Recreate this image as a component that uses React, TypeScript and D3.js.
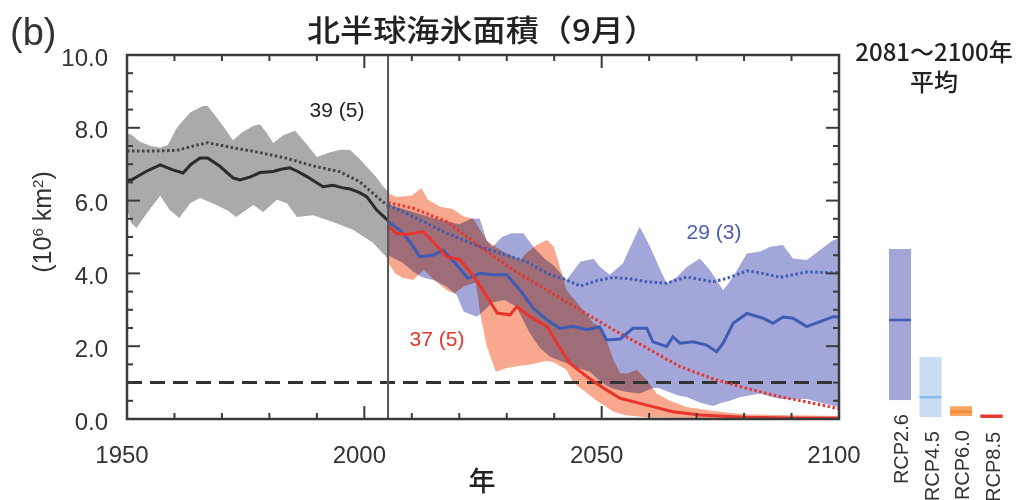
import React from "react";
import * as d3 from "d3";

type Pt = [number, number];

// historical (1950-2005)
const histHigh: Pt[] = [
  [1950, 7.85], [1951, 7.8], [1952.7, 7.62], [1955, 7.5], [1957, 7.46], [1958.6, 7.53], [1960.5, 8.0],
  [1963.3, 8.42], [1966, 8.6], [1967, 8.6], [1968.5, 8.35], [1970.5, 8.0], [1972.3, 7.66], [1974.5, 7.9],
  [1976.6, 8.05], [1978, 8.1], [1979.5, 7.85], [1980.8, 7.58], [1983, 7.8], [1985.4, 7.92], [1987.5, 7.6],
  [1990, 7.2], [1992.8, 7.33], [1995, 7.4], [1997, 7.39], [1999, 7.15], [2000.5, 6.93], [2002.5, 6.65],
  [2004, 6.38], [2005, 6.25],
];
const histLow: Pt[] = [
  [1950, 5.8], [1950.8, 5.4], [1952, 5.25], [1954.2, 5.66], [1957, 6.13], [1959, 5.74], [1961, 5.52],
  [1963.3, 5.93], [1965.4, 6.07], [1968, 5.93], [1971, 5.74], [1973, 5.55], [1976.6, 5.88], [1978.7, 5.69],
  [1981.6, 6.02], [1983.7, 5.93], [1985.8, 5.55], [1989.2, 5.6], [1993.4, 5.41], [1997.7, 5.19],
  [2001.8, 4.84], [2005, 4.4],
];
const histMean: Pt[] = [
  [1950, 6.55], [1951, 6.57], [1954, 6.8], [1957, 6.98], [1959.5, 6.85], [1961.8, 6.76], [1963.5, 7.0],
  [1965.4, 7.17], [1967, 7.17], [1969.5, 6.95], [1972.4, 6.62], [1973.8, 6.57], [1976, 6.65], [1978, 6.77],
  [1980.8, 6.8], [1982.5, 6.86], [1984.3, 6.9], [1986, 6.8], [1987.9, 6.66], [1991.3, 6.38], [1993.4, 6.42],
  [1995.5, 6.35], [1997, 6.32], [1999, 6.22], [2000.5, 6.11], [2002.6, 5.74], [2005, 5.45],
];
const histSubset: Pt[] = [
  [1950, 7.36], [1955, 7.36], [1960.5, 7.38], [1964, 7.5], [1967, 7.59], [1972.8, 7.44], [1978, 7.32],
  [1983.7, 7.16], [1989.3, 6.95], [1994.9, 6.79], [1999, 6.52], [2003.4, 6.02], [2005, 5.85],
];

// RCP8.5
const rcp85High: Pt[] = [
  [2005, 6.2], [2006.8, 6.1], [2010, 6.14], [2012, 6.34], [2013.4, 6.02], [2016, 5.83], [2018.6, 5.77],
  [2020.9, 5.56], [2023, 5.5], [2024.4, 5.19], [2025.8, 4.9], [2028, 4.7], [2030, 4.55], [2032.8, 4.37],
  [2034.5, 4.6], [2036.3, 4.78], [2038.5, 4.92], [2039.9, 4.73], [2041.6, 4.0], [2042.6, 3.54],
  [2045.5, 3.09], [2048.3, 2.63], [2049.6, 2.55], [2051, 2.17], [2052.5, 1.62], [2053.9, 1.26],
  [2055.5, 1.25], [2057.4, 1.35], [2059.5, 1.07], [2061.6, 0.7], [2064.4, 0.5], [2067.9, 0.33],
  [2073.5, 0.22], [2080, 0.13], [2090, 0.1], [2100, 0.08],
];
const rcp85Low: Pt[] = [
  [2005, 4.3], [2006.5, 4.0], [2008, 3.88], [2010.3, 3.82], [2012.5, 4.09], [2015.5, 3.73], [2017.4, 3.54],
  [2019, 3.45], [2021, 3.65], [2023.5, 3.75], [2024.4, 2.9], [2025.8, 1.99], [2027.7, 1.3], [2030, 1.4],
  [2032.8, 1.46], [2035, 1.5], [2038.4, 1.6], [2040, 1.55], [2042.6, 1.35], [2044, 1.0], [2045.5, 0.85],
  [2049, 0.5], [2052.5, 0.2], [2055, 0.1], [2060, 0.04], [2100, 0.0],
];
const rcp85Mean: Pt[] = [
  [2005, 5.3], [2006.8, 5.1], [2009, 5.07], [2012.4, 5.15], [2014.5, 4.87], [2017.4, 4.46], [2020.2, 4.37],
  [2022.3, 4.05], [2025, 3.54], [2028, 2.91], [2030.7, 2.86], [2032.1, 3.09], [2034.9, 2.81], [2038.5, 2.54],
  [2040.6, 2.08], [2043.3, 1.53], [2046.9, 1.16], [2051, 0.8], [2053.9, 0.57], [2059.5, 0.38], [2065, 0.2],
  [2070.7, 0.11], [2080, 0.05], [2090, 0.03], [2100, 0.02],
];
const rcp85Subset: Pt[] = [
  [2005, 5.95], [2010.3, 5.79], [2017.4, 5.42], [2024.4, 4.73], [2031.4, 4.09], [2038.5, 3.54],
  [2045.5, 2.99], [2052.5, 2.45], [2059.5, 1.95], [2066.5, 1.44], [2073.5, 1.1], [2080.6, 0.84],
  [2087.6, 0.61], [2094.6, 0.43], [2100, 0.28],
];

// RCP2.6
const rcp26High: Pt[] = [
  [2005, 5.9], [2010, 5.7], [2015, 5.5], [2020, 5.35], [2022.5, 5.5], [2024.3, 5.51], [2025.8, 4.9],
  [2027, 4.73], [2029, 5.0], [2031, 5.1], [2033.5, 5.1], [2035.6, 4.73], [2038, 4.4], [2040, 4.2],
  [2042.6, 3.82], [2045.5, 4.32], [2048.3, 4.4], [2049.6, 4.18], [2051.7, 3.96], [2054.5, 4.28],
  [2056.4, 4.83], [2058, 5.28], [2060.2, 4.73], [2062.7, 4.0], [2063.7, 3.73], [2065.9, 3.91], [2068, 4.18],
  [2070.7, 4.41], [2072.8, 4.09], [2075.6, 3.54], [2077.7, 3.91], [2080.6, 4.55], [2083.4, 4.6],
  [2085.5, 4.73], [2088.2, 4.78], [2090.3, 4.41], [2093.2, 4.37], [2096, 4.64], [2098.8, 4.92], [2100, 4.95],
];
const rcp26Low: Pt[] = [
  [2005, 4.5], [2008, 4.3], [2010.3, 4.05], [2012, 3.9], [2015, 3.8], [2017.4, 3.63], [2019.5, 3.4],
  [2020.9, 2.95], [2023.7, 2.81], [2025, 2.95], [2027, 3.2], [2029.5, 3.27], [2032, 3.09], [2034.9, 2.35],
  [2037, 1.95], [2039.1, 1.71], [2042.6, 1.53], [2045, 1.4], [2047.5, 1.3], [2050, 1.0], [2052, 0.85],
  [2055, 0.75], [2058, 0.7], [2060.8, 0.85], [2062, 0.85], [2064, 0.75], [2066, 0.65], [2068, 0.6],
  [2070.7, 0.45], [2073.5, 0.36], [2075, 0.43], [2077, 0.5], [2079, 0.6], [2083.4, 0.7], [2086, 0.6],
  [2088, 0.55], [2091, 0.55], [2093.2, 0.55], [2096, 0.45], [2098.8, 0.36], [2100, 0.32],
];
const rcp26Mean: Pt[] = [
  [2005, 5.42], [2007.5, 5.19], [2009.6, 4.87], [2011.7, 4.46], [2014.5, 4.5], [2016.6, 4.64],
  [2019.5, 4.23], [2021.8, 3.87], [2024.4, 4.0], [2027.1, 3.96], [2030, 3.96], [2032.8, 3.54],
  [2035.6, 3.04], [2038.5, 2.72], [2041.2, 2.49], [2044, 2.55], [2046.9, 2.45], [2049.6, 2.53], [2051, 2.17],
  [2053.9, 2.2], [2056.6, 2.49], [2059.5, 2.49], [2060.8, 2.12], [2063.7, 1.99], [2065, 2.26], [2066.5, 2.08],
  [2069.3, 2.12], [2072.1, 2.03], [2074.2, 1.85], [2075.6, 2.08], [2077.7, 2.63], [2080.6, 2.9], [2084, 2.77],
  [2086.1, 2.63], [2088.2, 2.8], [2090.3, 2.77], [2093.2, 2.54], [2095.9, 2.67], [2098.8, 2.81], [2100, 2.8],
];
const rcp26Subset: Pt[] = [
  [2005, 5.88], [2010.3, 5.56], [2017.4, 5.1], [2024.4, 4.73], [2030, 4.5], [2034.2, 4.32], [2038.5, 4.0],
  [2042.6, 3.82], [2045.5, 3.65], [2049, 3.8], [2052.5, 3.89], [2056, 3.85], [2059.5, 3.77], [2063.7, 3.73],
  [2067.9, 3.9], [2073.5, 3.77], [2076.3, 3.86], [2080.6, 4.07], [2084, 4.0], [2087.6, 3.89], [2093.2, 4.04],
  [2098.8, 4.02], [2100, 4.02],
];

// 2081-2100 averages: [low, mean, high]
const rcpNames = ["RCP2.6", "RCP4.5", "RCP6.0", "RCP8.5"];
const rcpRanges: [number, number, number][] = [
  [0.52, 2.72, 4.67],
  [0.05, 0.6, 1.7],
  [0.08, 0.2, 0.35],
  [0.03, 0.08, 0.12],
];
const rcpFill = ["#a3a6d6", "#c8dcf2", "#f6a55e", "#e8342c"];
const rcpMeanColor = ["#3e5cb3", "#86bce9", "#ef8a35", "#e8342c"];

const yTickLabels = ["0.0", "2.0", "4.0", "6.0", "8.0", "10.0"];
const xTickLabels = ["1950", "2000", "2050", "2100"];
const iceFreeLevel = 1.0;
const splitYear = 2005;

const latin = "'Liberation Sans', Arial, 'Noto Sans CJK JP', sans-serif";
const cjk = "'Noto Sans CJK JP', 'Liberation Sans', sans-serif";

export default function App() {
  const W = 1021, H = 500;
  const x = d3.scaleLinear().domain([1950, 2100]).range([127, 839]);
  const y = d3.scaleLinear().domain([0, 10]).range([419, 55]);
  const [x0, x1] = x.range();
  const [yb, yt] = y.range();

  const line = d3.line<Pt>().x(d => x(d[0])).y(d => y(d[1]));
  const band = (hi: Pt[], lo: Pt[]) => line([...hi, ...lo.slice().reverse()]) + "Z";

  const legX = d3.scalePoint<string>().domain(rcpNames).range([900, 991.5]);
  const barW = 22;

  const xTicks = d3.range(1950, 2101, 10);
  const yTicks = d3.range(0, 10.01, 0.5);

  return (
    <svg width={W} height={H} style={{ position: "absolute", left: 0, top: 0, background: "#fff" }}>
      {/* bands */}
      <path d={band(histHigh, histLow)} fill="#a9aaac" />
      <path d={band(rcp26High, rcp26Low)} fill="#a3a6d9" />
      <path d={band(rcp85High, rcp85Low)} fill="#f7a88d" style={{ mixBlendMode: "multiply" }} />

      {/* dashed 1.0 line */}
      <line x1={x0} x2={x1} y1={y(iceFreeLevel)} y2={y(iceFreeLevel)}
        stroke="#333" strokeWidth={3} strokeDasharray="15,8" />

      {/* dotted subset means */}
      <path d={line(histSubset)!} fill="none" stroke="#444" strokeWidth={3} strokeDasharray="2.5,2.5" />
      <path d={line(rcp26Subset)!} fill="none" stroke="#3e5cb3" strokeWidth={3} strokeDasharray="2.5,2.5" />
      <path d={line(rcp85Subset)!} fill="none" stroke="#e8342c" strokeWidth={3} strokeDasharray="2.5,2.5" />

      {/* solid means */}
      <path d={line(histMean)!} fill="none" stroke="#2b2b2b" strokeWidth={3} />
      <path d={line(rcp26Mean)!} fill="none" stroke="#3e5cb3" strokeWidth={3} />
      <path d={line(rcp85Mean)!} fill="none" stroke="#e8342c" strokeWidth={3} />

      {/* 2005 divider */}
      <line x1={x(splitYear)} x2={x(splitYear)} y1={yt} y2={yb} stroke="#555" strokeWidth={2} />

      {/* frame */}
      <rect x={x0} y={yt} width={x1 - x0} height={yb - yt} fill="none" stroke="#3a3a3a" strokeWidth={2.5} />

      {/* ticks */}
      {xTicks.map(t => {
        const len = t % 50 === 0 ? 13 : 6;
        return (
          <g key={"xt" + t} stroke="#3a3a3a" strokeWidth={2}>
            <line x1={x(t)} x2={x(t)} y1={yb} y2={yb - len} />
            <line x1={x(t)} x2={x(t)} y1={yt} y2={yt + len} />
          </g>
        );
      })}
      {yTicks.map(t => {
        const len = Math.abs(t % 2) < 1e-6 ? 13 : 6;
        return (
          <g key={"yt" + t} stroke="#3a3a3a" strokeWidth={2}>
            <line x1={x0} x2={x0 + len} y1={y(t)} y2={y(t)} />
            <line x1={x1} x2={x1 - len} y1={y(t)} y2={y(t)} />
          </g>
        );
      })}

      {/* tick labels */}
      {yTickLabels.map(l => (
        <text key={l} x={108} y={y(+l) + 2} textAnchor="end" dominantBaseline="central"
          fontFamily={latin} fontSize={24} fill="#333">{l}</text>
      ))}
      {xTickLabels.map(l => (
        <text key={l} x={x(+l) - 5} y={463} textAnchor="middle"
          fontFamily={latin} fontSize={24} fill="#333">{l}</text>
      ))}

      {/* titles */}
      <text x={10} y={45} fontFamily={latin} fontSize={38} fill="#333">(b)</text>
      <text x={482} y={41} textAnchor="middle" fontFamily={cjk} fontSize={30} fontWeight={500} fill="#222"
        textLength={350} lengthAdjust="spacingAndGlyphs">北半球海氷面積（9月）</text>
      <text x={482} y={491} textAnchor="middle" fontFamily={cjk} fontSize={27} fontWeight={500} fill="#222">年</text>
      <text transform="translate(51,222) rotate(-90)" textAnchor="middle" fontFamily={latin}
        fontSize={25} fill="#333">
        <tspan>(10</tspan>
        <tspan baselineShift="super" fontSize={15}>6</tspan>
        <tspan> km</tspan>
        <tspan baselineShift="super" fontSize={15}>2</tspan>
        <tspan>)</tspan>
      </text>

      {/* model counts */}
      <text x={337} y={117} textAnchor="middle" fontFamily={latin} fontSize={21} fill="#222">39 (5)</text>
      <text x={714} y={239} textAnchor="middle" fontFamily={latin} fontSize={21} fill="#4a5cb0">29 (3)</text>
      <text x={437} y={346} textAnchor="middle" fontFamily={latin} fontSize={21} fill="#e8342c">37 (5)</text>

      {/* 2081-2100 mean legend */}
      <text x={934} y={61} textAnchor="middle" fontFamily={cjk} fontSize={24} fontWeight={500} fill="#222">2081～2100年</text>
      <text x={934} y={91} textAnchor="middle" fontFamily={cjk} fontSize={24} fontWeight={500} fill="#222">平均</text>
      {rcpNames.map((name, i) => {
        const [lo, mean, hi] = rcpRanges[i];
        const cx = legX(name)!;
        return (
          <g key={name}>
            <rect x={cx - barW / 2} y={y(hi)} width={barW} height={y(lo) - y(hi)} fill={rcpFill[i]} />
            <line x1={cx - barW / 2} x2={cx + barW / 2} y1={y(mean)} y2={y(mean)}
              stroke={rcpMeanColor[i]} strokeWidth={2.5} />
            <text transform={`translate(${cx + 8},${y(lo) + 14}) rotate(-90)`} textAnchor="end"
              fontFamily={latin} fontSize={20} fill="#333">{name}</text>
          </g>
        );
      })}
    </svg>
  );
}
